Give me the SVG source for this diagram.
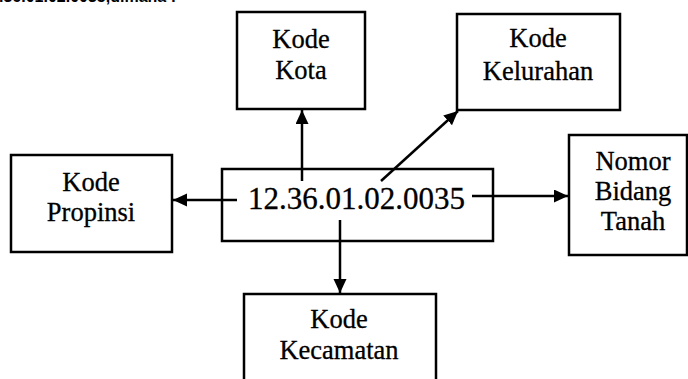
<svg xmlns="http://www.w3.org/2000/svg" width="688" height="379" viewBox="0 0 688 379">
<style>
.box{fill:#fff;stroke:#000;stroke-width:2.5}
.lbl{font-family:"Liberation Serif","Times New Roman",serif;font-size:26.5px;fill:#000;stroke:#000;stroke-width:0.3;text-anchor:middle}
.code{font-family:"Liberation Serif","Times New Roman",serif;font-size:31px;fill:#000;stroke:#000;stroke-width:0.3}
.con{stroke:#000;stroke-width:2.5;fill:none;marker-end:url(#ah)}
.top{font-family:"Liberation Sans",Arial,sans-serif;font-size:16px;font-weight:bold;fill:#000;text-anchor:end}
</style>
<defs>
<marker id="ah" markerUnits="userSpaceOnUse" markerWidth="16" markerHeight="14" refX="14" refY="6.5" orient="auto">
<path d="M0,0 L14,6.5 L0,13 Z" fill="#000"/>
</marker>
</defs>
<rect width="688" height="379" fill="#fff"/>
<text class="top" x="176" y="2">No.12.36.01.02.0035,dimana :</text>
<g id="center">
<rect class="box" x="222" y="169" width="271" height="72"/>
<text class="code" x="248" y="209">12.36.01.02.0035</text>
</g>
<g id="kota">
<rect class="box" x="237" y="12" width="128" height="97"/>
<text class="lbl" x="301" y="48">Kode</text>
<text class="lbl" x="301" y="79">Kota</text>
</g>
<g id="kelurahan">
<rect class="box" x="457" y="14" width="163" height="96"/>
<text class="lbl" x="538" y="47">Kode</text>
<text class="lbl" x="538" y="80">Kelurahan</text>
</g>
<g id="propinsi">
<rect class="box" x="11" y="155" width="161" height="97"/>
<text class="lbl" x="91" y="191">Kode</text>
<text class="lbl" x="91" y="221">Propinsi</text>
</g>
<g id="nomor">
<rect class="box" x="569" y="135" width="118" height="120"/>
<text class="lbl" x="633" y="170">Nomor</text>
<text class="lbl" x="633" y="200">Bidang</text>
<text class="lbl" x="633" y="230">Tanah</text>
</g>
<g id="kecamatan">
<rect class="box" x="244" y="294" width="192" height="100"/>
<text class="lbl" x="339" y="328">Kode</text>
<text class="lbl" x="339" y="359">Kecamatan</text>
</g>
<g id="connectors">
<line class="con" x1="302" y1="181" x2="302" y2="110"/>
<line class="con" x1="381" y1="181" x2="458" y2="111"/>
<line class="con" x1="237" y1="200" x2="173" y2="200"/>
<line class="con" x1="472" y1="196" x2="568" y2="196"/>
<line class="con" x1="340" y1="220" x2="340" y2="293"/>
</g>
</svg>
